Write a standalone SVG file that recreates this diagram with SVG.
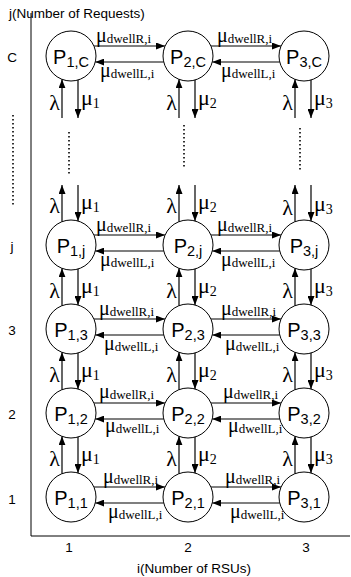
<svg xmlns="http://www.w3.org/2000/svg" width="351" height="577" viewBox="0 0 351 577">
<style>
.ax{font-family:"Liberation Sans",Arial,sans-serif;font-size:13.5px;fill:#000}
.nd circle{fill:#fff;stroke:#000;stroke-width:1}
.nl{font-family:"Liberation Sans",Arial,sans-serif;font-size:20px;fill:#000;text-anchor:middle}
.nl tspan{font-size:14.5px}
.ar{stroke:#000;stroke-width:1.2;fill:none;marker-end:url(#ah)}
.dot{stroke:#000;stroke-width:1.6;stroke-dasharray:1.4 2.6;fill:none}
.gl{font-family:"Liberation Serif","Times New Roman",serif;font-size:22px;fill:#000}
.gl tspan{font-size:14px}
.lam{text-anchor:end}
.dw{font-family:"Liberation Serif","Times New Roman",serif;font-size:20px;fill:#000}
.dw tspan{font-size:13px}
</style>
<defs>
<marker id="ah" viewBox="0 0 9 7" refX="9" refY="3.5" markerWidth="9" markerHeight="7" markerUnits="userSpaceOnUse" orient="auto"><path d="M0,0 L9,3.5 L0,7 z" fill="#000"/></marker>
</defs>
<g id="axes">
<line x1="31" y1="13" x2="31" y2="536" stroke="#000" stroke-width="1"/>
<line x1="31" y1="536" x2="350" y2="536" stroke="#000" stroke-width="1"/>
<text class="ax" x="9" y="18">j(Number of Requests)</text>
<text class="ax" x="137" y="573">i(Number of RSUs)</text>
<text class="ax" x="12" y="62" text-anchor="middle">C</text>
<text class="ax" x="12" y="251" text-anchor="middle">j</text>
<text class="ax" x="12" y="335" text-anchor="middle">3</text>
<text class="ax" x="12" y="419" text-anchor="middle">2</text>
<text class="ax" x="12" y="504" text-anchor="middle">1</text>
<text class="ax" x="69" y="552" text-anchor="middle">1</text>
<text class="ax" x="188" y="552" text-anchor="middle">2</text>
<text class="ax" x="306" y="552" text-anchor="middle">3</text>
<line class="dot" x1="13" y1="115" x2="13" y2="207"/>
</g>
<g id="connectors">
<path class="ar" d="M94,46 H165"/><path class="ar" d="M163.7,62 H95.3"/>
<path class="ar" d="M211,46 H281"/><path class="ar" d="M279.7,62 H212.3"/>
<path class="ar" d="M94,235 H165"/><path class="ar" d="M163.7,251 H95.3"/>
<path class="ar" d="M211,235 H281"/><path class="ar" d="M279.7,251 H212.3"/>
<path class="ar" d="M94,319 H165"/><path class="ar" d="M163.7,335 H95.3"/>
<path class="ar" d="M211,319 H281"/><path class="ar" d="M279.7,335 H212.3"/>
<path class="ar" d="M94,403 H165"/><path class="ar" d="M163.7,419 H95.3"/>
<path class="ar" d="M211,403 H281"/><path class="ar" d="M279.7,419 H212.3"/>
<path class="ar" d="M94,487 H165"/><path class="ar" d="M163.7,503 H95.3"/>
<path class="ar" d="M211,487 H281"/><path class="ar" d="M279.7,503 H212.3"/>
<path class="ar" d="M62,118 V79.3"/><path class="ar" d="M78,80 V118"/>
<path class="ar" d="M179,118 V79.3"/><path class="ar" d="M195,80 V118"/>
<path class="ar" d="M295,118 V79.3"/><path class="ar" d="M311,80 V118"/>
<line class="dot" x1="69" y1="132" x2="69" y2="174"/>
<line class="dot" x1="184" y1="125" x2="184" y2="168"/>
<line class="dot" x1="300" y1="128" x2="300" y2="172"/>
<path class="ar" d="M62,221.7 V185"/><path class="ar" d="M78,185 V221"/>
<path class="ar" d="M179,221.7 V185"/><path class="ar" d="M195,185 V221"/>
<path class="ar" d="M295,221.7 V185"/><path class="ar" d="M311,185 V221"/>
<path class="ar" d="M62,305.7 V268.3"/><path class="ar" d="M78,269 V305"/>
<path class="ar" d="M179,305.7 V268.3"/><path class="ar" d="M195,269 V305"/>
<path class="ar" d="M295,305.7 V268.3"/><path class="ar" d="M311,269 V305"/>
<path class="ar" d="M62,389.7 V352.3"/><path class="ar" d="M78,353 V389"/>
<path class="ar" d="M179,389.7 V352.3"/><path class="ar" d="M195,353 V389"/>
<path class="ar" d="M295,389.7 V352.3"/><path class="ar" d="M311,353 V389"/>
<path class="ar" d="M62,473.7 V436.3"/><path class="ar" d="M78,437 V473"/>
<path class="ar" d="M179,473.7 V436.3"/><path class="ar" d="M195,437 V473"/>
<path class="ar" d="M295,473.7 V436.3"/><path class="ar" d="M311,437 V473"/>
<text class="dw" x="96" y="42">μ<tspan dy="1">dwellR,i</tspan></text>
<text class="dw" x="100" y="77">μ<tspan dy="1">dwellL,i</tspan></text>
<text class="dw" x="217" y="42">μ<tspan dy="1">dwellR,i</tspan></text>
<text class="dw" x="221" y="77">μ<tspan dy="1">dwellL,i</tspan></text>
<text class="dw" x="96" y="231">μ<tspan dy="1">dwellR,i</tspan></text>
<text class="dw" x="100" y="266">μ<tspan dy="1">dwellL,i</tspan></text>
<text class="dw" x="217" y="231">μ<tspan dy="1">dwellR,i</tspan></text>
<text class="dw" x="221" y="266">μ<tspan dy="1">dwellL,i</tspan></text>
<text class="dw" x="99" y="315">μ<tspan dy="1">dwellR,i</tspan></text>
<text class="dw" x="104" y="350">μ<tspan dy="1">dwellL,i</tspan></text>
<text class="dw" x="221" y="315">μ<tspan dy="1">dwellR,i</tspan></text>
<text class="dw" x="225" y="350">μ<tspan dy="1">dwellL,i</tspan></text>
<text class="dw" x="99" y="398">μ<tspan dy="1">dwellR,i</tspan></text>
<text class="dw" x="105" y="432">μ<tspan dy="1">dwellL,i</tspan></text>
<text class="dw" x="223" y="398">μ<tspan dy="1">dwellR,i</tspan></text>
<text class="dw" x="228" y="432">μ<tspan dy="1">dwellL,i</tspan></text>
<text class="dw" x="103" y="483">μ<tspan dy="1">dwellR,i</tspan></text>
<text class="dw" x="108" y="518">μ<tspan dy="1">dwellL,i</tspan></text>
<text class="dw" x="225" y="483">μ<tspan dy="1">dwellR,i</tspan></text>
<text class="dw" x="230" y="518">μ<tspan dy="1">dwellL,i</tspan></text>
<text class="gl lam" x="60" y="110">λ</text><text class="gl" x="81" y="105">μ<tspan dy="3">1</tspan></text>
<text class="gl lam" x="177" y="110">λ</text><text class="gl" x="198" y="105">μ<tspan dy="3">2</tspan></text>
<text class="gl lam" x="293" y="110">λ</text><text class="gl" x="314" y="105">μ<tspan dy="3">3</tspan></text>
<text class="gl lam" x="60" y="213">λ</text><text class="gl" x="81" y="209">μ<tspan dy="3">1</tspan></text>
<text class="gl lam" x="177" y="213">λ</text><text class="gl" x="198" y="209">μ<tspan dy="3">2</tspan></text>
<text class="gl lam" x="293" y="215">λ</text><text class="gl" x="314" y="211">μ<tspan dy="3">3</tspan></text>
<text class="gl lam" x="60" y="298">λ</text><text class="gl" x="81" y="293">μ<tspan dy="3">1</tspan></text>
<text class="gl lam" x="177" y="298">λ</text><text class="gl" x="198" y="293">μ<tspan dy="3">2</tspan></text>
<text class="gl lam" x="293" y="298">λ</text><text class="gl" x="314" y="293">μ<tspan dy="3">3</tspan></text>
<text class="gl lam" x="60" y="382">λ</text><text class="gl" x="81" y="377">μ<tspan dy="3">1</tspan></text>
<text class="gl lam" x="177" y="382">λ</text><text class="gl" x="198" y="377">μ<tspan dy="3">2</tspan></text>
<text class="gl lam" x="293" y="382">λ</text><text class="gl" x="314" y="377">μ<tspan dy="3">3</tspan></text>
<text class="gl lam" x="60" y="466">λ</text><text class="gl" x="81" y="461">μ<tspan dy="3">1</tspan></text>
<text class="gl lam" x="177" y="466">λ</text><text class="gl" x="198" y="461">μ<tspan dy="3">2</tspan></text>
<text class="gl lam" x="293" y="466">λ</text><text class="gl" x="314" y="461">μ<tspan dy="3">3</tspan></text>
</g>
<g id="P1C" class="nd"><circle cx="71" cy="56" r="25"/><text class="nl" x="71" y="64">P<tspan dy="3">1,C</tspan></text></g>
<g id="P2C" class="nd"><circle cx="188" cy="56" r="25"/><text class="nl" x="188" y="64">P<tspan dy="3">2,C</tspan></text></g>
<g id="P3C" class="nd"><circle cx="304" cy="56" r="25"/><text class="nl" x="304" y="64">P<tspan dy="3">3,C</tspan></text></g>
<g id="P1j" class="nd"><circle cx="71" cy="245" r="25"/><text class="nl" x="71" y="253">P<tspan dy="3">1,j</tspan></text></g>
<g id="P2j" class="nd"><circle cx="188" cy="245" r="25"/><text class="nl" x="188" y="253">P<tspan dy="3">2,j</tspan></text></g>
<g id="P3j" class="nd"><circle cx="304" cy="245" r="25"/><text class="nl" x="304" y="253">P<tspan dy="3">3,j</tspan></text></g>
<g id="P13" class="nd"><circle cx="71" cy="329" r="25"/><text class="nl" x="71" y="337">P<tspan dy="3">1,3</tspan></text></g>
<g id="P23" class="nd"><circle cx="188" cy="329" r="25"/><text class="nl" x="188" y="337">P<tspan dy="3">2,3</tspan></text></g>
<g id="P33" class="nd"><circle cx="304" cy="329" r="25"/><text class="nl" x="304" y="337">P<tspan dy="3">3,3</tspan></text></g>
<g id="P12" class="nd"><circle cx="71" cy="413" r="25"/><text class="nl" x="71" y="421">P<tspan dy="3">1,2</tspan></text></g>
<g id="P22" class="nd"><circle cx="188" cy="413" r="25"/><text class="nl" x="188" y="421">P<tspan dy="3">2,2</tspan></text></g>
<g id="P32" class="nd"><circle cx="304" cy="413" r="25"/><text class="nl" x="304" y="421">P<tspan dy="3">3,2</tspan></text></g>
<g id="P11" class="nd"><circle cx="71" cy="497" r="25"/><text class="nl" x="71" y="505">P<tspan dy="3">1,1</tspan></text></g>
<g id="P21" class="nd"><circle cx="188" cy="497" r="25"/><text class="nl" x="188" y="505">P<tspan dy="3">2,1</tspan></text></g>
<g id="P31" class="nd"><circle cx="304" cy="497" r="25"/><text class="nl" x="304" y="505">P<tspan dy="3">3,1</tspan></text></g>
</svg>
